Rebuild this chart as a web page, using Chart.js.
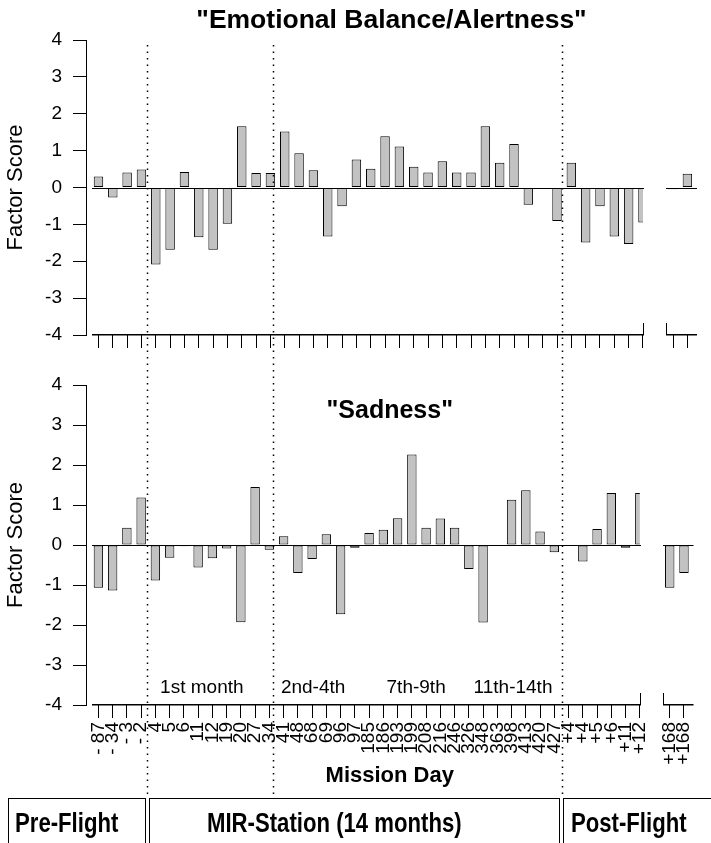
<!DOCTYPE html>
<html>
<head>
<meta charset="utf-8">
<script src="https://cdn.jsdelivr.net/npm/chart.js@4.4.1/dist/chart.umd.min.js"></script>
<style>
  body { margin: 0; background: #fff; }
  #page { position: relative; width: 711px; height: 843px; overflow: hidden; font-family: "Liberation Sans", Arial, sans-serif; }
  #page canvas { position: absolute; left: 0; top: 0; }
  .phase { position: absolute; top: 798px; height: 70px; border: 1px solid #000; box-sizing: border-box; }
  .phase span { position: absolute; top: 11px; font-weight: bold; font-size: 27px; line-height: 27px; transform: scaleX(0.82); transform-origin: left top; white-space: nowrap; }
</style>
</head>
<body>
<div id="page">
  <canvas id="cTop" width="711" height="843"></canvas>
  <canvas id="cBot" width="711" height="843"></canvas>
  <div class="phase" style="left:8px;width:138px"><span style="left:6px">Pre-Flight</span></div>
  <div class="phase" style="left:149px;width:411px"><span style="left:57px">MIR-Station (14 months)</span></div>
  <div class="phase" style="left:563px;width:160px"><span style="left:7px">Post-Flight</span></div>
</div>
<script>
// mission days (pre-flight, MIR, post-flight, follow-up)
const days = ['- 87','- 34','- 3','- 2',
  '4','5','6','11','12','19','20','27','34','41','48','68','69','96','97',
  '185','186','193','199','208','216','246','326','348','363','398','413','420','427',
  '+4','+4','+5','+6','+11','+12','+168','+168'];
const emotional = [0.30,-0.27,0.41,0.49,
  -2.09,-1.69,0.42,-1.35,-1.69,-0.98,1.66,0.39,0.39,1.52,0.93,0.47,-1.33,-0.51,0.76,
  0.51,1.39,1.11,0.56,0.41,0.71,0.41,0.41,1.66,0.67,1.18,-0.47,-0.04,-0.91,
  0.67,-1.49,-0.51,-1.33,-1.53,-0.95,-0.05,0.37];
const sadness = [-1.07,-1.14,0.43,1.19,
  -0.89,-0.32,-0.03,-0.56,-0.33,-0.09,-1.93,1.45,-0.12,0.22,-0.70,-0.35,0.27,-1.73,-0.07,
  0.30,0.38,0.67,2.26,0.43,0.66,0.43,-0.60,-1.94,0.01,1.13,1.37,0.34,-0.18,
  0.01,-0.41,0.40,1.30,-0.07,1.30,-1.07,-0.70];
const yTicks = [-4,-3,-2,-1,0,1,2,3,4];
const periods = ['1st month','2nd-4th','7th-9th','11th-14th'];

// layout helpers (positions in category units)
const nMain = 39;          // bars before the axis break
const gapExtra = 1.1;      // extra room for the axis break
const xPos = days.map((d,i) => i < nMain ? i : i + gapExtra);
const phaseBreaks = [3.41, 12.25, 32.55];
const periodAt = [7.26, 15.07, 22.3, 29.1];
const FONT = '"Liberation Sans", Arial, sans-serif';

const breakPlugin = {
  id: 'brk',
  beforeDatasetsDraw(chart) {
    const {ctx, chartArea: a, scales: {x}} = chart;
    const b1 = x.getPixelForValue(nMain - 1), b2 = x.getPixelForValue(nMain + 0.6);
    ctx.save();
    ctx.beginPath();
    ctx.rect(a.left, a.top - 2, b1 - a.left, a.height + 4);
    ctx.rect(b2, a.top - 2, a.right - b2 + 4, a.height + 4);
    ctx.clip();
  },
  afterDatasetsDraw(chart) {
    chart.ctx.restore();
  },
  afterDraw(chart) {
    const {ctx, chartArea: a, scales: {x, y}} = chart;
    const b1 = Math.round(x.getPixelForValue(nMain - 1));
    const b2 = Math.round(x.getPixelForValue(nMain + 0.6));
    const x0 = Math.round(x.getPixelForValue(-0.45));
    const y0 = Math.round(y.getPixelForValue(0));
    const yb = Math.round(a.bottom);
    ctx.save();
    ctx.fillStyle = '#000';
    // zero line and x axis, both broken between the post-flight and +168 blocks
    ctx.fillRect(x0, y0, b1 - x0 + 1, 1);
    ctx.fillRect(b2, y0, a.right - b2, 1);
    ctx.fillRect(x0, yb - 1, b1 - x0 + 1, 1.5);
    ctx.fillRect(b2, yb - 1, a.right - b2, 1.5);
    ctx.fillRect(b1, yb - 12, 1, 12);
    ctx.fillRect(b2, yb - 12, 1, 12);
    ctx.restore();
  }
};

function textPlugin(draw) {
  return { id: 'txt', afterDraw(chart) {
    const ctx = chart.ctx;
    ctx.save();
    ctx.fillStyle = '#000';
    ctx.textAlign = 'center';
    ctx.textBaseline = 'middle';
    draw(chart, ctx);
    ctx.restore();
  }};
}

function makeChart(id, values, o) {
  return new Chart(document.getElementById(id), {
    type: 'bar',
    data: {
      datasets: [{
        data: values.map((v,i) => ({x: xPos[i], y: v})),
        backgroundColor: '#c2c2c2',
        borderColor: '#000',
        borderWidth: 1,
        borderSkipped: false,
        barPercentage: 0.66,
        categoryPercentage: 1
      }]
    },
    options: {
      responsive: false,
      animation: false,
      devicePixelRatio: 1,
      layout: {padding: {left: 0, right: 14, top: o.top, bottom: o.bottom}},
      plugins: {legend: {display: false}, tooltip: {enabled: false}},
      scales: {
        x: {
          type: 'linear', min: -0.87, max: 41.77, offset: false,
          afterBuildTicks: s => { s.ticks = xPos.map(v => ({value: v})); },
          afterFit: s => { s.height = o.xh; },
          ticks: {display: o.labels, autoSkip: false, minRotation: 90, maxRotation: 90, padding: 4,
                  color: '#000', font: {family: FONT, size: 19},
                  callback: (v, i) => days[i]},
          grid: {offset: false, drawOnChartArea: false, drawTicks: true, tickLength: 13, color: '#000'},
          border: {display: false},
          title: {display: o.labels, text: 'Mission Day', color: '#000', padding: 0,
                  font: {family: FONT, size: 22, weight: 'bold'}}
        },
        y: {
          min: -4, max: 4,
          afterBuildTicks: s => { s.ticks = yTicks.map(v => ({value: v})); },
          afterFit: s => { s.width = 86; },
          ticks: {padding: 11, color: '#000', font: {family: FONT, size: 19}},
          grid: {drawOnChartArea: false, tickLength: 13, color: '#000'},
          border: {display: true, color: '#000'},
          title: {display: true, text: 'Factor Score', color: '#000', padding: {top: 3, bottom: 0},
                  font: {family: FONT, size: 22}}
        }
      }
    },
    plugins: [breakPlugin, o.extra]
  });
}

makeChart('cTop', emotional, {top: 40, bottom: 843 - 335 - 15, xh: 15, labels: false,
  extra: textPlugin((chart, ctx) => {
    const a = chart.chartArea;
    ctx.font = 'bold 26.5px ' + FONT;
    ctx.fillText('"Emotional Balance/Alertness"', (a.left + a.right) / 2, 21);
  })
});

makeChart('cBot', sadness, {top: 385, bottom: 843 - 705 - 84, xh: 84, labels: true,
  extra: textPlugin((chart, ctx) => {
    const a = chart.chartArea, x = chart.scales.x;
    ctx.font = 'bold 25px ' + FONT;
    ctx.fillText('"Sadness"', (a.left + a.right) / 2, a.top + 26);
    ctx.font = '19px ' + FONT;
    periods.forEach((p, i) => ctx.fillText(p, x.getPixelForValue(periodAt[i]), a.bottom - 17));
    // phase separators running through both panels
    ctx.strokeStyle = '#000';
    ctx.lineWidth = 1.5;
    ctx.setLineDash([1.5, 5]);
    ctx.beginPath();
    phaseBreaks.forEach(v => {
      const px = Math.round(x.getPixelForValue(v)) + 0.5;
      ctx.moveTo(px, 45); ctx.lineTo(px, 796);
    });
    ctx.stroke();
  })
});
</script>
</body>
</html>
